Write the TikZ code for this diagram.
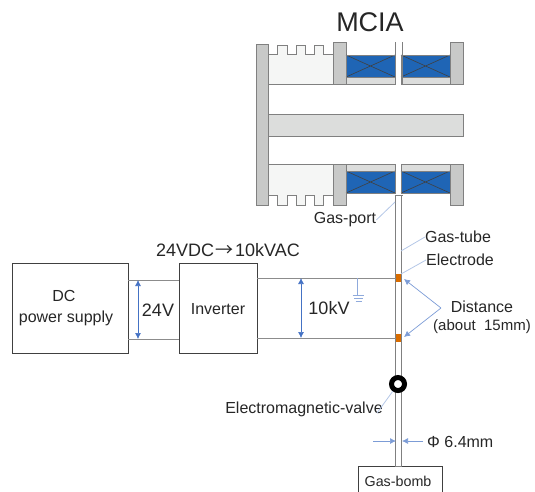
\documentclass[tikz,border=0pt]{standalone}
\usepackage{fontspec}
\setmainfont{Liberation Sans}
\newfontfamily\cjk{Noto Sans CJK JP}
\usetikzlibrary{arrows.meta}
\definecolor{plategray}{HTML}{C8C9C8}
\definecolor{edgegray}{HTML}{808080}
\definecolor{paleline}{HTML}{DCDDDC}
\definecolor{palefill}{HTML}{F5F6F5}
\definecolor{coilblue}{HTML}{1F65B5}
\definecolor{arrowblue}{HTML}{4472C4}
\definecolor{leaderblue}{HTML}{B4C7E7}
\definecolor{txtgray}{HTML}{262626}
\tikzset{
 plate/.style={draw=edgegray,fill=plategray,line width=.8pt},
 box/.style={draw=black!75,line width=1pt,inner sep=0pt,align=center,text=txtgray},
 wire/.style={draw=black!45,line width=.9pt},
 txtlabel/.style={inner sep=0pt,text=txtgray,font=\fontsize{16}{16}\selectfont},
 biglabel/.style={inner sep=0pt,text=txtgray,font=\fontsize{18}{18}\selectfont},
 dimline/.style={draw=arrowblue,line width=.7pt,{Latex[length=6pt,width=6pt]}-{Latex[length=6pt,width=6pt]}},
 pointer/.style={draw=arrowblue!70,line width=.7pt,-{Latex[length=6pt,width=6pt]}},
 leader/.style={draw=leaderblue,line width=.8pt},
 electrode/.style={draw=none,fill=orange!85!black,minimum width=5pt,minimum height=8pt,inner sep=0pt},
}
% blue winding with its cross, #1,#2 = top left corner
\newcommand{\coilbox}[2]{
\fill[coilblue](#1,#2)rectangle(#1+49,#2+22);
\draw[black!75,line width=.6pt](#1,#2)--(#1+49,#2+22)(#1+49,#2)--(#1,#2+22);
\draw[edgegray,line width=.8pt](#1,#2)rectangle(#1+49,#2+22);
}
\newcommand{\linerbox}[2]{
\draw[edgegray,fill=paleline,line width=.8pt](#1,#2)rectangle(#1+49,#2+7);
}
\begin{document}
\begin{tikzpicture}[x=1pt,y=-1pt]
\useasboundingbox (0,0) rectangle (535,491);

% engine
\draw[edgegray,fill=palefill,line width=.8pt](268,84)--(268,54)--(277,54)--(277,45)--(287,45)--(287,54)--(296,54)--(296,45)--(305,45)--(305,54)--(314,54)--(314,45)--(323,45)--(323,54)--(333,54)--(333,84)--cycle;
\draw[edgegray,fill=palefill,line width=.8pt](268,164)--(268,195)--(277,195)--(277,205)--(287,205)--(287,195)--(296,195)--(296,205)--(305,205)--(305,195)--(314,195)--(314,205)--(323,205)--(323,195)--(333,195)--(333,164)--cycle;
\draw[edgegray,fill=paleline,line width=.8pt](268,114)rectangle(463,136);
\draw[plate](256,44)rectangle(268,205);
\draw[plate](333,42)rectangle(346,84);
\draw[plate](333,164)rectangle(346,205);
\draw[plate](450,42)rectangle(463,84);
\draw[plate](450,164)rectangle(463,205);

\coilbox{346}{55}
\coilbox{401}{55}
\linerbox{346}{77}
\linerbox{401}{77}
\linerbox{346}{164}
\linerbox{401}{164}
\coilbox{346}{171}
\coilbox{401}{171}

\draw[edgegray,line width=.8pt](395,42)--(395,84)(402,42)--(402,84);

\node[inner sep=0pt,text=txtgray,font=\fontsize{27}{27}\selectfont] (mcia) at (370,22) {MCIA};

% gas line
\node[box,minimum width=84pt,minimum height=36pt,anchor=north west] (gasbomb) at (358,466) {};
\node[inner sep=0pt,text=txtgray,font=\fontsize{14.3}{14}\selectfont] (gasbombtext) at (398,481) {Gas-bomb};
\draw[edgegray,line width=1pt,fill=white](395.5,195)rectangle(401.5,466);
\draw[edgegray,line width=1pt](394.5,195)--(402.5,195);

\node[electrode] (elecA) at (398.5,278) {};
\node[electrode] (elecB) at (398.5,338) {};
\node[circle,draw=black,line width=5pt,fill=white,minimum size=13pt,inner sep=0pt] (valve) at (398,384) {};

% electric part
\node[box,minimum width=116pt,minimum height=90pt,anchor=north west] (dcbox) at (12,263) {};
\node[box,minimum width=78pt,minimum height=90pt,anchor=north west] (inverter) at (179,263) {};
\node[txtlabel] (dctext) at (64,296) {DC};
\node[txtlabel] (pstext) at (66,318) {power supply};
\node[txtlabel] (invtext) at (218,309) {Inverter};

\coordinate (dcA) at (128,280);
\coordinate (dcB) at (128,339);
\coordinate (inA) at (179,280);
\coordinate (inB) at (179,339);
\coordinate (outA) at (257,278);
\coordinate (outB) at (257,338);
\draw[wire](dcA)--(inA);
\draw[wire](dcB)--(inB);
\draw[wire](outA)--(elecA.west);
\draw[wire](outB)--(elecB.west);

\coordinate (vA) at (138,280);
\coordinate (vB) at (138,339);
\draw[dimline](vA)--(vB);
\coordinate (kvA) at (301,278);
\coordinate (kvB) at (301,338);
\draw[dimline](kvA)--(kvB);

\node[biglabel] (lowv) at (158,310) {24V};
\node[biglabel] (highv) at (329,308) {10kV};
\node[biglabel,anchor=west] (convtext) at (156,250) {24VDC\kern1.5pt{\cjk →}\kern1.5pt 10kVAC};

% earth
\coordinate (gndA) at (357,278);
\coordinate (gndB) at (357,295);
\draw[leader,draw=arrowblue!60](gndA)--(gndB);
\draw[leader,draw=arrowblue!60](352.5,295)--(364,295)(354,298)--(363,298)(355.5,301)--(361.5,301);

% labels on the right
\node[txtlabel] (gasport) at (345,220) {Gas-port};
\node[txtlabel] (gastube) at (458,237) {Gas-tube};
\node[txtlabel] (electext) at (460,260) {Electrode};
\node[txtlabel] (disttext) at (482,307) {Distance};
\node[txtlabel,font=\fontsize{15}{15}\selectfont] (abouttext) at (482,327) {(about\ \ 15mm)};
\node[txtlabel] (valvetext) at (304,409) {Electromagnetic-valve};
\node[txtlabel,anchor=west] (phitext) at (427,442) {Φ 6.4mm};

\coordinate (portend) at (395,202);
\coordinate (tubeend) at (401,251);
\coordinate (elecend) at (401,274);
\coordinate (valveend) at (377,413);
\draw[leader](gasport.east)--(portend);
\draw[leader](gastube.west)--(tubeend);
\draw[leader](electext.west)--(elecend);
\draw[leader](valve)--(valveend);

\coordinate (distapex) at (441,308);
\coordinate (distA) at (404,279);
\coordinate (distB) at (404,337);
\draw[pointer](distapex)--(distA);
\draw[pointer](distapex)--(distB);

\coordinate (phiA) at (373,441);
\coordinate (phiB) at (396,441);
\coordinate (phiC) at (423,441);
\coordinate (phiD) at (402,441);
\draw[pointer](phiA)--(phiB);
\draw[pointer](phiC)--(phiD);
\end{tikzpicture}
\end{document}
